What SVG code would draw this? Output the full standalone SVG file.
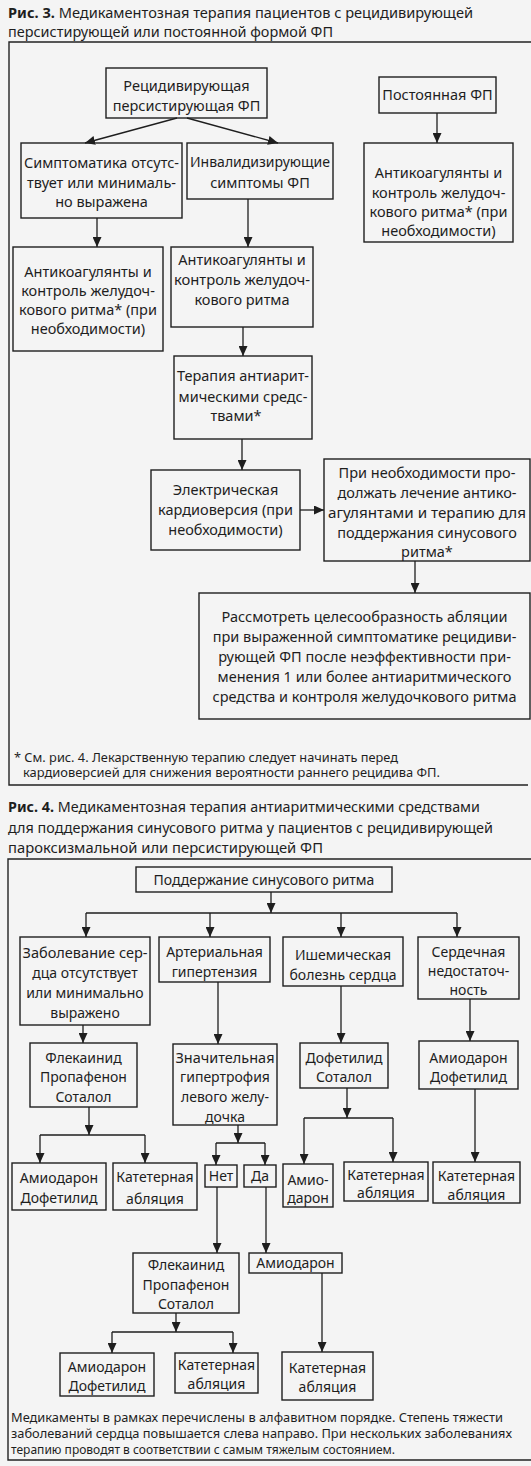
<svg xmlns="http://www.w3.org/2000/svg" width="531" height="1466" viewBox="0 0 531 1466">
<defs>
<style>
.bg{fill:#f4f4f4}
.frame{fill:none;stroke:#222;stroke-width:1.4}
.box{fill:none;stroke:#1e1e1e;stroke-width:1.4}
.c{fill:none;stroke:#1e1e1e;stroke-width:1.3}
.t{font-family:"Noto Sans","DejaVu Sans",sans-serif;font-size:14px;fill:#1e1e1e;text-anchor:middle}
.t3{font-size:14.5px}
.ti{font-family:"Noto Sans","DejaVu Sans",sans-serif;font-size:15px;fill:#1e1e1e}
.fn{font-family:"Noto Sans","DejaVu Sans",sans-serif;font-size:12.5px;fill:#1e1e1e}
.fn4{font-size:12px}
.b{font-weight:bold}
</style>
<marker id="ah" markerUnits="userSpaceOnUse" markerWidth="10" markerHeight="9" refX="10" refY="4.5" orient="auto">
<path d="M0,0 L10,4.5 L0,9 z" fill="#1e1e1e"/>
</marker>
</defs>
<rect class="bg" x="0" y="0" width="531" height="1466"/>

<g id="fig3-title">
<text class="ti" x="8" y="18" textLength="465" lengthAdjust="spacingAndGlyphs"><tspan class="b">Рис. 3.</tspan> Медикаментозная терапия пациентов с рецидивирующей</text>
<text class="ti" x="8" y="37" textLength="325" lengthAdjust="spacingAndGlyphs">персистирующей или постоянной формой ФП</text>
</g>
<g id="fig3-frame">
<path class="frame" d="M531,42 H9 V785 H528"/>
</g>

<g id="n-rec">
<rect class="box" x="106" y="68" width="161" height="50"/>
<text class="t t3" x="186.5" y="91">Рецидивирующая</text>
<text class="t t3" x="186.5" y="111">персистирующая ФП</text>
</g>
<g id="n-perm">
<rect class="box" x="379" y="77" width="117" height="36"/>
<text class="t t3" x="437.5" y="100">Постоянная ФП</text>
</g>
<g id="n-anti-r">
<rect class="box" x="364" y="143" width="149" height="99"/>
<text class="t t3" x="438.5" y="178">Антикоагулянты и</text>
<text class="t t3" x="438.5" y="198">контроль желудоч-</text>
<text class="t t3" x="438.5" y="217">кового ритма* (при</text>
<text class="t t3" x="438.5" y="236">необходимости)</text>
</g>
<g id="n-sympt">
<rect class="box" x="21" y="143" width="161" height="75"/>
<text class="t t3" x="101.5" y="168" textLength="155" lengthAdjust="spacingAndGlyphs">Симптоматика отсутс-</text>
<text class="t t3" x="101.5" y="188" textLength="149" lengthAdjust="spacingAndGlyphs">твует или минималь-</text>
<text class="t t3" x="101.5" y="207">но выражена</text>
</g>
<g id="n-invalid">
<rect class="box" x="187" y="143" width="146" height="56"/>
<text class="t t3" x="260" y="167" textLength="140" lengthAdjust="spacingAndGlyphs">Инвалидизирующие</text>
<text class="t t3" x="260" y="188">симптомы ФП</text>
</g>
<g id="n-anti-l">
<rect class="box" x="13" y="247" width="150" height="104"/>
<text class="t t3" x="88" y="277">Антикоагулянты и</text>
<text class="t t3" x="88" y="296">контроль желудоч-</text>
<text class="t t3" x="88" y="315">кового ритма* (при</text>
<text class="t t3" x="88" y="334">необходимости)</text>
</g>
<g id="n-anti-m">
<rect class="box" x="171" y="247" width="142" height="80"/>
<text class="t t3" x="242" y="265">Антикоагулянты и</text>
<text class="t t3" x="242" y="285" textLength="136" lengthAdjust="spacingAndGlyphs">контроль желудоч-</text>
<text class="t t3" x="242" y="305">кового ритма</text>
</g>
<g id="n-ther">
<rect class="box" x="174" y="356" width="138" height="83"/>
<text class="t t3" x="243" y="381" textLength="132" lengthAdjust="spacingAndGlyphs">Терапия антиарит-</text>
<text class="t t3" x="243" y="402">мическими средс-</text>
<text class="t t3" x="236" y="421">твами*</text>
</g>
<g id="n-elec">
<rect class="box" x="151" y="470" width="149" height="80"/>
<text class="t t3" x="225.5" y="495">Электрическая</text>
<text class="t t3" x="225.5" y="515">кардиоверсия (при</text>
<text class="t t3" x="225.5" y="535">необходимости)</text>
</g>
<g id="n-cont">
<rect class="box" x="324" y="459" width="206" height="102"/>
<text class="t t3" x="427" y="478">При необходимости про-</text>
<text class="t t3" x="427" y="498">должать лечение антико-</text>
<text class="t t3" x="427" y="518" textLength="198" lengthAdjust="spacingAndGlyphs">агулянтами и терапию для</text>
<text class="t t3" x="427" y="538">поддержания синусового</text>
<text class="t t3" x="427" y="557">ритма*</text>
</g>
<g id="n-abl">
<rect class="box" x="199" y="593" width="331" height="126"/>
<text class="t t3" x="364.5" y="622">Рассмотреть целесообразность абляции</text>
<text class="t t3" x="364.5" y="642">при выраженной симптоматике рецидиви-</text>
<text class="t t3" x="364.5" y="662">рующей ФП после неэффективности при-</text>
<text class="t t3" x="364.5" y="682">менения 1 или более антиаритмического</text>
<text class="t t3" x="364.5" y="702">средства и контроля желудочкового ритма</text>
</g>
<g id="fig3-note">
<text class="fn" x="14" y="762" textLength="384" lengthAdjust="spacingAndGlyphs">* См. рис. 4. Лекарственную терапию следует начинать перед</text>
<text class="fn" x="23" y="777" textLength="417" lengthAdjust="spacingAndGlyphs">кардиоверсией для снижения вероятности раннего рецидива ФП.</text>
</g>

<g id="connectors-fig3">
<line class="c" x1="177" y1="118" x2="85" y2="143" marker-end="url(#ah)"/>
<line class="c" x1="187" y1="118" x2="278" y2="143" marker-end="url(#ah)"/>
<line class="c" x1="437" y1="113" x2="437" y2="143" marker-end="url(#ah)"/>
<line class="c" x1="97" y1="218" x2="97" y2="247" marker-end="url(#ah)"/>
<line class="c" x1="248" y1="199" x2="248" y2="247" marker-end="url(#ah)"/>
<line class="c" x1="243" y1="327" x2="243" y2="356" marker-end="url(#ah)"/>
<line class="c" x1="242" y1="439" x2="242" y2="470" marker-end="url(#ah)"/>
<line class="c" x1="300" y1="510" x2="324" y2="510" marker-end="url(#ah)"/>
<line class="c" x1="415" y1="561" x2="415" y2="593" marker-end="url(#ah)"/>
</g>

<g id="fig4-title">
<text class="ti" x="8" y="812" textLength="472" lengthAdjust="spacingAndGlyphs"><tspan class="b">Рис. 4.</tspan> Медикаментозная терапия антиаритмическими средствами</text>
<text class="ti" x="8" y="833" textLength="485" lengthAdjust="spacingAndGlyphs">для поддержания синусового ритма у пациентов с рецидивирующей</text>
<text class="ti" x="8" y="853" textLength="315" lengthAdjust="spacingAndGlyphs">пароксизмальной или персистирующей ФП</text>
</g>
<g id="fig4-frame">
<path class="frame" d="M531,859 H8 V1460 H531"/>
</g>

<g id="n-main">
<rect class="box" x="136" y="867" width="256" height="25"/>
<text class="t" x="264" y="885">Поддержание синусового ритма</text>
</g>
<g id="n-nohd">
<rect class="box" x="20" y="937" width="130" height="88"/>
<text class="t" x="85" y="958" textLength="125" lengthAdjust="spacingAndGlyphs">Заболевание сер-</text>
<text class="t" x="85" y="978">дца отсутствует</text>
<text class="t" x="85" y="998">или минимально</text>
<text class="t" x="85" y="1018">выражено</text>
</g>
<g id="n-htn">
<rect class="box" x="159" y="937" width="111" height="45"/>
<text class="t" x="214.5" y="957">Артериальная</text>
<text class="t" x="214.5" y="977">гипертензия</text>
</g>
<g id="n-ihd">
<rect class="box" x="283" y="937" width="120" height="49"/>
<text class="t" x="343" y="960">Ишемическая</text>
<text class="t" x="343" y="980">болезнь сердца</text>
</g>
<g id="n-hf">
<rect class="box" x="418" y="937" width="101" height="62"/>
<text class="t" x="468.5" y="957">Сердечная</text>
<text class="t" x="468.5" y="976">недостаточ-</text>
<text class="t" x="468.5" y="995">ность</text>
</g>
<g id="n-flec1">
<rect class="box" x="30" y="1043" width="107" height="64"/>
<text class="t" x="83.5" y="1063">Флекаинид</text>
<text class="t" x="83.5" y="1082">Пропафенон</text>
<text class="t" x="83.5" y="1102">Соталол</text>
</g>
<g id="n-lvh">
<rect class="box" x="173" y="1044" width="104" height="81"/>
<text class="t" x="225" y="1063" textLength="99" lengthAdjust="spacingAndGlyphs">Значительная</text>
<text class="t" x="225" y="1082">гипертрофия</text>
<text class="t" x="225" y="1102">левого желу-</text>
<text class="t" x="225" y="1122">дочка</text>
</g>
<g id="n-dofsot">
<rect class="box" x="300" y="1043" width="88" height="45"/>
<text class="t" x="344" y="1063">Дофетилид</text>
<text class="t" x="344" y="1082">Соталол</text>
</g>
<g id="n-amdof-r">
<rect class="box" x="419" y="1041" width="99" height="48"/>
<text class="t" x="468.5" y="1063">Амиодарон</text>
<text class="t" x="468.5" y="1082">Дофетилид</text>
</g>
<g id="n-amdof1">
<rect class="box" x="12" y="1163" width="94" height="47"/>
<text class="t" x="59" y="1183">Амиодарон</text>
<text class="t" x="59" y="1203">Дофетилид</text>
</g>
<g id="n-cath1">
<rect class="box" x="113" y="1163" width="84" height="47"/>
<text class="t" x="155" y="1182">Катетерная</text>
<text class="t" x="155" y="1204">абляция</text>
</g>
<g id="n-no">
<rect class="box" x="205" y="1165" width="32" height="22"/>
<text class="t" x="221" y="1181">Нет</text>
</g>
<g id="n-yes">
<rect class="box" x="244" y="1165" width="32" height="22"/>
<text class="t" x="260" y="1181">Да</text>
</g>
<g id="n-amio1">
<rect class="box" x="283" y="1164" width="50" height="43"/>
<text class="t" x="308" y="1185">Амио-</text>
<text class="t" x="308" y="1203">дарон</text>
</g>
<g id="n-cath2">
<rect class="box" x="344" y="1162" width="84" height="39"/>
<text class="t" x="386" y="1180">Катетерная</text>
<text class="t" x="386" y="1198">абляция</text>
</g>
<g id="n-cath3">
<rect class="box" x="433" y="1162" width="87" height="41"/>
<text class="t" x="476.5" y="1181">Катетерная</text>
<text class="t" x="476.5" y="1200">абляция</text>
</g>
<g id="n-flec2">
<rect class="box" x="133" y="1253" width="106" height="60"/>
<text class="t" x="186" y="1270">Флекаинид</text>
<text class="t" x="186" y="1290">Пропафенон</text>
<text class="t" x="186" y="1309">Соталол</text>
</g>
<g id="n-amio2">
<rect class="box" x="249" y="1253" width="93" height="20"/>
<text class="t" x="295.5" y="1268">Амиодарон</text>
</g>
<g id="n-amdof2">
<rect class="box" x="60" y="1353" width="94" height="43"/>
<text class="t" x="107" y="1372">Амиодарон</text>
<text class="t" x="107" y="1391">Дофетилид</text>
</g>
<g id="n-cath4">
<rect class="box" x="175" y="1353" width="83" height="40"/>
<text class="t" x="216.5" y="1370">Катетерная</text>
<text class="t" x="216.5" y="1389">абляция</text>
</g>
<g id="n-cath5">
<rect class="box" x="282" y="1352" width="91" height="48"/>
<text class="t" x="327.5" y="1373">Катетерная</text>
<text class="t" x="327.5" y="1392">абляция</text>
</g>
<g id="fig4-note">
<text class="fn fn4" x="11" y="1422" textLength="492" lengthAdjust="spacingAndGlyphs">Медикаменты в рамках перечислены в алфавитном порядке. Степень тяжести</text>
<text class="fn fn4" x="11" y="1438" textLength="501" lengthAdjust="spacingAndGlyphs">заболеваний сердца повышается слева направо. При нескольких заболеваниях</text>
<text class="fn fn4" x="11" y="1454" textLength="384" lengthAdjust="spacingAndGlyphs">терапию проводят в соответствии с самым тяжелым состоянием.</text>
</g>

<g id="connectors-fig4">
<line class="c" x1="271" y1="892" x2="271" y2="913" marker-end="url(#ah)"/>
<line class="c" x1="86" y1="913" x2="457" y2="913"/>
<line class="c" x1="86" y1="913" x2="86" y2="937" marker-end="url(#ah)"/>
<line class="c" x1="210" y1="913" x2="210" y2="937" marker-end="url(#ah)"/>
<line class="c" x1="341" y1="913" x2="341" y2="937" marker-end="url(#ah)"/>
<line class="c" x1="457" y1="913" x2="457" y2="937" marker-end="url(#ah)"/>
<line class="c" x1="218" y1="982" x2="218" y2="1044" marker-end="url(#ah)"/>
<line class="c" x1="341" y1="986" x2="341" y2="1043" marker-end="url(#ah)"/>
<line class="c" x1="470" y1="999" x2="470" y2="1041" marker-end="url(#ah)"/>
<line class="c" x1="83" y1="1025" x2="83" y2="1043" marker-end="url(#ah)"/>
<line class="c" x1="89" y1="1107" x2="89" y2="1135" marker-end="url(#ah)"/>
<line class="c" x1="40" y1="1135" x2="145" y2="1135"/>
<line class="c" x1="40" y1="1135" x2="40" y2="1163" marker-end="url(#ah)"/>
<line class="c" x1="145" y1="1135" x2="145" y2="1163" marker-end="url(#ah)"/>
<line class="c" x1="238" y1="1125" x2="238" y2="1143" marker-end="url(#ah)"/>
<line class="c" x1="216" y1="1143" x2="265" y2="1143"/>
<line class="c" x1="216" y1="1143" x2="216" y2="1165" marker-end="url(#ah)"/>
<line class="c" x1="265" y1="1143" x2="265" y2="1165" marker-end="url(#ah)"/>
<line class="c" x1="347" y1="1088" x2="347" y2="1118" marker-end="url(#ah)"/>
<line class="c" x1="304" y1="1118" x2="393" y2="1118"/>
<line class="c" x1="304" y1="1118" x2="304" y2="1164" marker-end="url(#ah)"/>
<line class="c" x1="393" y1="1118" x2="393" y2="1162" marker-end="url(#ah)"/>
<line class="c" x1="475" y1="1089" x2="475" y2="1162" marker-end="url(#ah)"/>
<line class="c" x1="217" y1="1187" x2="217" y2="1253" marker-end="url(#ah)"/>
<line class="c" x1="266" y1="1187" x2="266" y2="1253" marker-end="url(#ah)"/>
<line class="c" x1="176" y1="1313" x2="176" y2="1332" marker-end="url(#ah)"/>
<line class="c" x1="112" y1="1332" x2="233" y2="1332"/>
<line class="c" x1="112" y1="1332" x2="112" y2="1353" marker-end="url(#ah)"/>
<line class="c" x1="233" y1="1332" x2="233" y2="1353" marker-end="url(#ah)"/>
<line class="c" x1="322" y1="1273" x2="322" y2="1352" marker-end="url(#ah)"/>
</g>
</svg>
